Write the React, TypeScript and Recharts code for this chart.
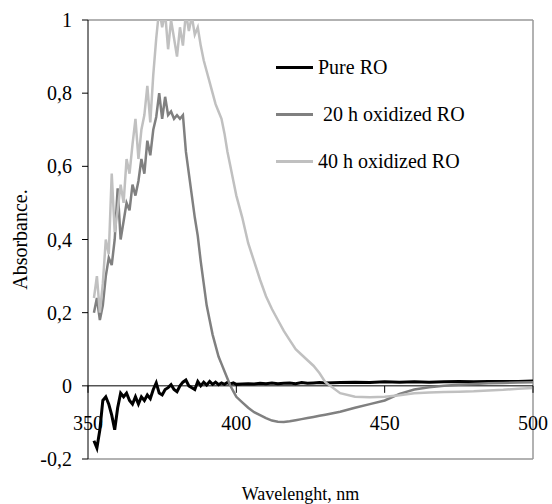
import { LineChart, Line, XAxis, YAxis, ReferenceLine } from "recharts";

const WAVELENGTHS = [
  352, 353, 354, 355, 356, 357, 358, 359, 360, 361, 362, 363, 364, 365, 366, 367, 368, 369, 370, 371,
  372, 373, 374, 375, 376, 377, 378, 379, 380, 381, 382, 383, 384, 385, 386, 387, 388, 389, 390, 391,
  392, 393, 394, 395, 396, 397, 398, 399, 400,
  402, 404, 406, 408, 410, 412, 414, 416, 418, 420, 422, 424, 426, 428, 430,
  435, 440, 445, 450, 455, 460, 465, 470, 475, 480, 485, 490, 495, 500,
];

const PURE_RO = [
  -0.15, -0.17, -0.12, -0.04, -0.03, -0.05, -0.08, -0.12, -0.06, -0.02,
  -0.03, -0.02, -0.04, -0.05, -0.03, -0.05, -0.03, -0.04, -0.025, -0.035,
  -0.01, 0.008, -0.02, -0.025, -0.01, -0.005, 0.003, -0.01, -0.016, 0.0,
  0.01, 0.016, 0.0, -0.005, -0.01, 0.012, 0.0, 0.01, 0.002, 0.012,
  0.004, 0.01, 0.003, 0.008, 0.004, 0.009, 0.005, 0.008, 0.004,
  0.005, 0.006, 0.005, 0.007, 0.006, 0.008, 0.006, 0.007, 0.008, 0.006, 0.009, 0.007, 0.008, 0.009, 0.008,
  0.009, 0.01, 0.009, 0.011, 0.01, 0.011, 0.01, 0.011, 0.012, 0.011, 0.012, 0.012, 0.012, 0.013,
];

const OX_20H = [
  0.2, 0.24, 0.18, 0.22, 0.3, 0.35, 0.33, 0.4, 0.54, 0.4,
  0.45, 0.5, 0.48, 0.55, 0.52, 0.56, 0.62, 0.58, 0.67, 0.63,
  0.7, 0.735, 0.8, 0.73, 0.79, 0.74, 0.75, 0.73, 0.74, 0.73,
  0.74, 0.64, 0.58, 0.52, 0.46, 0.41, 0.34, 0.28, 0.22, 0.18,
  0.14, 0.11, 0.08, 0.06, 0.04, 0.02, 0.0, -0.015, -0.03,
  -0.045, -0.06, -0.072, -0.08, -0.088, -0.095, -0.098, -0.099, -0.097, -0.094, -0.091, -0.088, -0.085, -0.082, -0.079,
  -0.071, -0.06, -0.05, -0.04, -0.022, -0.01, -0.004, 0.0, 0.003, 0.005, 0.007, 0.008, 0.009, 0.01,
];

const OX_40H = [
  0.24, 0.3, 0.2, 0.28, 0.4, 0.36, 0.58, 0.42, 0.48, 0.55,
  0.5, 0.62, 0.58, 0.66, 0.73, 0.62, 0.7, 0.74, 0.82, 0.72,
  0.85, 0.95, 1.03, 0.98, 1.02, 0.92, 1.0, 0.95, 0.9, 0.98,
  0.93, 1.02, 0.97, 1.01, 0.96, 0.98, 0.93, 0.89, 0.86, 0.83,
  0.8, 0.77, 0.75, 0.73, 0.69, 0.64, 0.6, 0.56, 0.52,
  0.46, 0.39, 0.34, 0.29, 0.245, 0.21, 0.18, 0.15, 0.125, 0.1, 0.085, 0.07, 0.055, 0.035, 0.01,
  -0.02, -0.03, -0.031, -0.03, -0.026, -0.02, -0.018, -0.017, -0.016, -0.015, -0.013, -0.011, -0.008, -0.006,
];

const X_TICKS = [350, 400, 450, 500];
const Y_TICKS = [-0.2, 0, 0.2, 0.4, 0.6, 0.8, 1];

const SERIES = [
  { key: "pure", name: "Pure RO", color: "#000000", width: 3 },
  { key: "ox20", name: " 20 h oxidized RO", color: "#808080", width: 2.5 },
  { key: "ox40", name: "40 h oxidized RO", color: "#c0c0c0", width: 2.5 },
];

const data = WAVELENGTHS.map((w, i) => ({ w, pure: PURE_RO[i], ox20: OX_20H[i], ox40: OX_40H[i] }));

const FONT = "'Liberation Serif', 'Times New Roman', serif";
const W = 552;
const H = 504;
const MARGIN = { top: 20, right: 19, bottom: 0, left: 10 };
const X_AXIS_H = 45;
const PLOT_H = H - MARGIN.top - MARGIN.bottom - X_AXIS_H;
// distance from bottom of the plot (-0.2) up to the zero line
const ZERO_RISE = (PLOT_H * 0.2) / 1.2;

const fmt = (v: number) => String(Math.round(v * 10) / 10).replace(".", ",");

// x axis sits on y = 0, with labels hanging below it
function XTick({ x, y, payload }: any) {
  const y0 = y - ZERO_RISE;
  return (
    <g>
      <line x1={x} x2={x} y1={y0} y2={y0 + 7} stroke="#000" strokeWidth={1} />
      <text x={x} y={y0 + 44} textAnchor="middle" fontSize={20} fontFamily={FONT} fill="#000">
        {payload.value}
      </text>
    </g>
  );
}

function LegendBox() {
  return (
    <div style={{ position: "absolute", left: 276, top: 44, fontFamily: FONT, fontSize: 20, color: "#000" }}>
      {SERIES.map((s) => (
        <div key={s.key} style={{ display: "flex", alignItems: "center", height: 47 }}>
          <div style={{ width: 37, height: 3, background: s.color }} />
          <span style={{ marginLeft: 5, whiteSpace: "pre" }}>{s.name}</span>
        </div>
      ))}
    </div>
  );
}

export default function App() {
  return (
    <div style={{ position: "absolute", left: 0, top: 0, width: W, height: H, background: "#fff" }}>
      <LineChart width={W} height={H} data={data} margin={MARGIN}>
        <XAxis
          dataKey="w"
          type="number"
          domain={[350, 500]}
          ticks={X_TICKS}
          allowDataOverflow
          axisLine={false}
          tickLine={false}
          tickSize={0}
          tickMargin={0}
          height={X_AXIS_H}
          tick={<XTick />}
          label={{
            content: ({ viewBox }: any) => (
              <text x={viewBox.x + viewBox.width / 2 - 10} y={viewBox.y + 41} textAnchor="middle"
                fontSize={18} fontFamily={FONT} fill="#000">
                Wavelenght, nm
              </text>
            ),
          }}
        />
        <YAxis
          type="number"
          domain={[-0.2, 1]}
          ticks={Y_TICKS}
          allowDataOverflow
          width={78}
          axisLine={{ stroke: "#000", strokeWidth: 1 }}
          tickLine={{ stroke: "#000" }}
          tickSize={6}
          tickMargin={10}
          tickFormatter={fmt}
          tick={{ fontSize: 20, fontFamily: FONT, fill: "#000" }}
          label={{
            content: ({ viewBox }: any) => {
              const cx = viewBox.x + 10;
              const cy = viewBox.y + viewBox.height / 2;
              return (
                <text x={cx} y={cy} transform={`rotate(-90 ${cx} ${cy})`} textAnchor="middle"
                  dominantBaseline="central" fontSize={20} fontFamily={FONT} fill="#000">
                  Absorbance.
                </text>
              );
            },
          }}
        />
        <ReferenceLine y={1} stroke="#999" strokeWidth={1.5} />
        <ReferenceLine y={-0.2} stroke="#999" strokeWidth={1.5} />
        <ReferenceLine x={500} stroke="#999" strokeWidth={1.5} />
        <ReferenceLine y={0} stroke="#000" strokeWidth={1} />
        {SERIES.map((s) => (
          <Line key={s.key} type="linear" dataKey={s.key} name={s.name} stroke={s.color}
            strokeWidth={s.width} dot={false} activeDot={false} isAnimationActive={false} />
        ))}
      </LineChart>
      <LegendBox />
    </div>
  );
}
